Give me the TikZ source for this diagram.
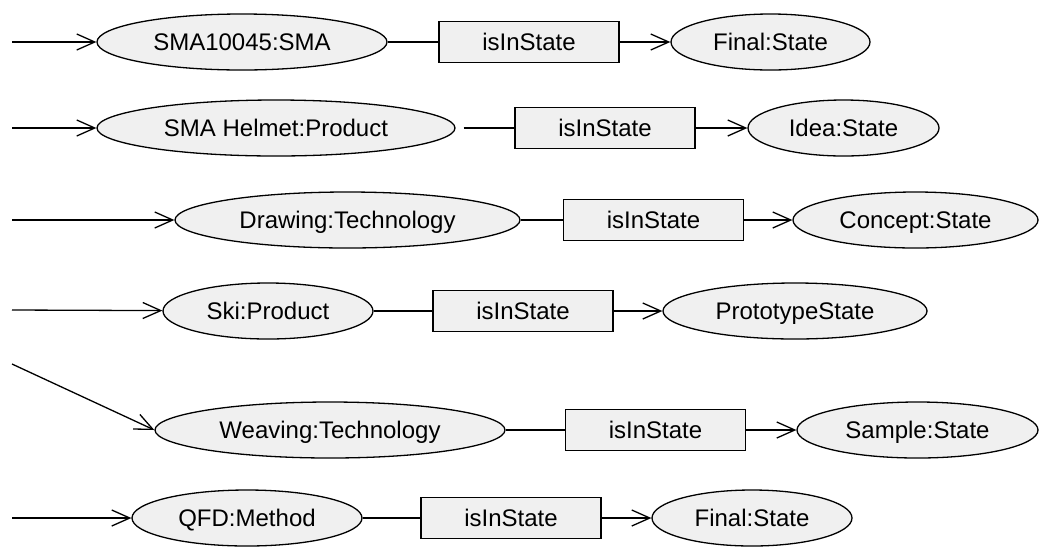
\documentclass[tikz,border=0pt]{standalone}
\usepackage{fontspec}
\setmainfont{Liberation Sans}
\usetikzlibrary{shapes.geometric,arrows.meta}
\definecolor{nodegray}{RGB}{240,240,240}
\tikzset{
  instance/.style={ellipse, draw=black, fill=nodegray, line width=1.3pt, minimum height=56pt, inner sep=0pt, text height=17pt, text depth=0pt, font=\fontsize{24}{28}\selectfont},
  relbox/.style={rectangle, draw=black, fill=nodegray, line width=1.3pt, minimum width=180pt, minimum height=41pt, inner sep=0pt, text height=17pt, text depth=0pt, font=\fontsize{24}{28}\selectfont},
  link/.style={line width=1.3pt, draw=black},
  arrowlink/.style={link, -{Straight Barb[length=18pt, width=16pt]}},
}

\begin{document}
\begin{tikzpicture}[x=1pt, y=-1pt]
\useasboundingbox (0,0) rectangle (1040,550);
\coordinate (in1) at (12,42);
\coordinate (in2) at (12,128);
\coordinate (in3) at (12,220);
\coordinate (in4) at (12,310);
\coordinate (in5) at (12,364);
\coordinate (in6) at (12,518);
\node[instance, minimum width=290pt] (e1) at (242,42) {SMA10045:SMA};
\node[relbox] (b1) at (529,42) {isInState};
\node[instance, minimum width=199pt] (s1) at (770.5,42) {Final:State};
\node[instance, minimum width=358pt] (e2) at (276,128) {SMA Helmet:Product};
\node[relbox] (b2) at (605,128) {isInState};
\node[instance, minimum width=191pt] (s2) at (843.5,128) {Idea:State};
\node[instance, minimum width=345pt] (e3) at (347.5,220) {Drawing:Technology};
\node[relbox] (b3) at (653.5,220) {isInState};
\node[instance, minimum width=245pt] (s3) at (915.5,220) {Concept:State};
\node[instance, minimum width=210pt] (e4) at (268,311) {Ski:Product};
\node[relbox] (b4) at (523,311) {isInState};
\node[instance, minimum width=264pt] (s4) at (795,311) {PrototypeState};
\node[instance, minimum width=350pt] (e5) at (330,430) {Weaving:Technology};
\node[relbox] (b5) at (655.5,430) {isInState};
\node[instance, minimum width=241pt] (s5) at (917.5,430) {Sample:State};
\node[instance, minimum width=230pt] (e6) at (247,518) {QFD:Method};
\node[relbox] (b6) at (511,518) {isInState};
\node[instance, minimum width=200pt] (s6) at (752,518) {Final:State};
\draw[arrowlink] (in1) -- (e1);
\draw[link] (e1) -- (b1);
\draw[arrowlink] (b1) -- (s1);
\draw[arrowlink] (in2) -- (e2);
\draw[link, shorten <=8pt] (e2) -- (b2);
\draw[arrowlink] (b2) -- (s2);
\draw[arrowlink] (in3) -- (e3);
\draw[link] (e3) -- (b3);
\draw[arrowlink] (b3) -- (s3);
\draw[arrowlink] (in4) -- (e4);
\draw[link] (e4) -- (b4);
\draw[arrowlink] (b4) -- (s4);
\draw[arrowlink] (in5) -- (e5.west);
\draw[link] (e5) -- (b5);
\draw[arrowlink] (b5) -- (s5);
\draw[arrowlink] (in6) -- (e6);
\draw[link] (e6) -- (b6);
\draw[arrowlink] (b6) -- (s6);
\end{tikzpicture}
\end{document}
